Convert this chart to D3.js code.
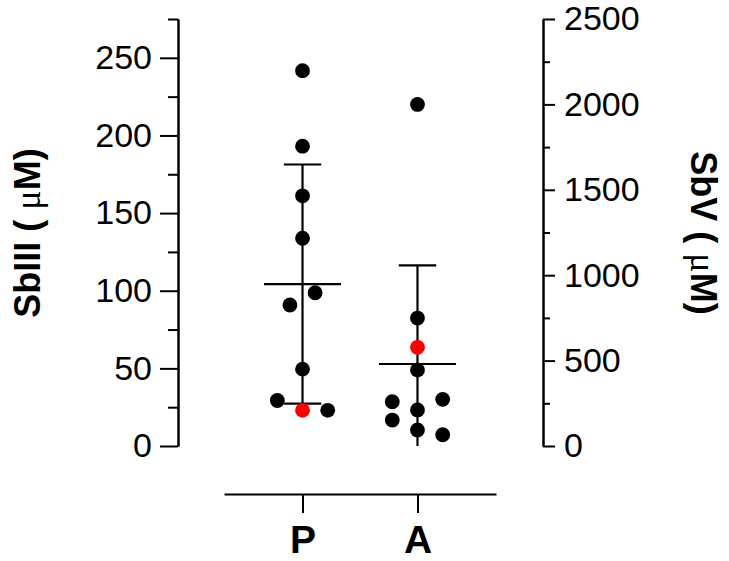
<!DOCTYPE html>
<html>
<head>
<meta charset="utf-8">
<script src="https://cdn.jsdelivr.net/npm/d3@7"></script>
<style>
  body { margin: 0; background: #fff; }
  svg { display: block; font-family: "Liberation Sans", Arial, sans-serif; }
  .axis path, .axis line { stroke: #000; stroke-width: 2; }
  .axis text { fill: #000; font-size: 34px; }
</style>
</head>
<body>
<div class="container"></div>
<script>
// groups on the x axis
const groups = ["P", "A"];

// P group, read against the left axis (SbIII, uM)
const pValues = [241.7, 193.1, 161.1, 133.8, 98.7, 90.8, 49.5, 29.3, 23.0, 23.0];
const pSlots  = [0, 0, 0, 0, 1, -1, 0, -2, 0, 2];   // jitter slot of each dot
const pRed    = [false, false, false, false, false, false, false, false, true, false];
const pMean = 104.3, pSD = 77;

// A group, read against the right axis (SbV, uM)
const aValues = [2000, 749, 578, 445, 273, 259, 211, 152, 94, 66];
const aSlots  = [0, 0, 0, 0, 2, -2, 0, -2, 0, 2];
const aRed    = [false, false, true, false, false, false, false, false, false, false];
const aMean = 480, aSD = 578;

// ticks
const leftMajor = [0, 50, 100, 150, 200, 250];
const leftMinor = [25, 75, 125, 175, 225, 275];
const rightMajor = [0, 500, 1000, 1500, 2000, 2500];
const rightMinor = [250, 750, 1250, 1750, 2250];

const w = 729, h = 561;
const yTop = 19, yBottom = 446;
const leftX = 178, rightX = 543;

const svg = d3.select(".container").append("svg")
  .attr("width", w).attr("height", h);

const yLeft = d3.scaleLinear().domain([0, 275]).range([yBottom, yTop]);
const yRight = d3.scaleLinear().domain([0, 2500]).range([yBottom, yTop]);
const x = d3.scalePoint().domain(groups).range([224, 496]).padding(0.683);
const jitter = 12.6;

/* left axis */
svg.append("g").attr("class", "axis")
  .attr("transform", `translate(${leftX},0)`)
  .call(d3.axisLeft(yLeft).tickValues(leftMajor).tickSize(18).tickSizeOuter(0).tickPadding(8));
svg.append("g").attr("class", "axis")
  .attr("transform", `translate(${leftX},0)`)
  .call(d3.axisLeft(yLeft).tickValues(leftMinor).tickSize(10).tickSizeOuter(0).tickFormat(""));

/* right axis */
svg.append("g").attr("class", "axis")
  .attr("transform", `translate(${rightX},0)`)
  .call(d3.axisRight(yRight).tickValues(rightMajor).tickSize(12).tickSizeOuter(0).tickPadding(9).tickFormat(d3.format("d")));
svg.append("g").attr("class", "axis")
  .attr("transform", `translate(${rightX},0)`)
  .call(d3.axisRight(yRight).tickValues(rightMinor).tickSize(7).tickSizeOuter(0).tickFormat(""));

/* x axis */
const xAxis = svg.append("g").attr("class", "axis")
  .attr("transform", "translate(0,494)")
  .call(d3.axisBottom(x).tickSize(19).tickSizeOuter(0).tickPadding(12));
xAxis.selectAll("text").style("font-size", "39px").style("font-weight", "bold");

/* axis titles */
const leftTitle = svg.append("text")
  .attr("transform", "translate(40,233) rotate(-90)")
  .attr("text-anchor", "middle")
  .style("font-size", "36px").style("font-weight", "bold");
leftTitle.append("tspan").text("SbIII ( ");
leftTitle.append("tspan").text("\u03bc").style("font-weight", "normal").style("font-family", "Liberation Serif, serif");
leftTitle.append("tspan").text("M)");

const rightTitle = svg.append("text")
  .attr("transform", "translate(691,233) rotate(90)")
  .attr("text-anchor", "middle")
  .style("font-size", "36px").style("font-weight", "bold");
rightTitle.append("tspan").text("SbV ( ");
rightTitle.append("tspan").text("\u03bc").style("font-weight", "normal").style("font-family", "Liberation Serif, serif");
rightTitle.append("tspan").text("M)");

/* mean and SD bars */
function drawBars(g, y, mean, sd) {
  const cx = x(g);
  const lo = Math.max(0, mean - sd), hi = mean + sd;
  svg.append("line").attr("x1", cx).attr("x2", cx)
    .attr("y1", y(hi)).attr("y2", y(lo))
    .attr("stroke", "#000").attr("stroke-width", 2.2);
  svg.append("line").attr("x1", cx - 38.5).attr("x2", cx + 38.5)
    .attr("y1", y(mean)).attr("y2", y(mean))
    .attr("stroke", "#000").attr("stroke-width", 2.2);
  svg.append("line").attr("x1", cx - 18.7).attr("x2", cx + 18.7)
    .attr("y1", y(hi)).attr("y2", y(hi))
    .attr("stroke", "#000").attr("stroke-width", 2.2);
  if (mean - sd > 0) {
    svg.append("line").attr("x1", cx - 18.7).attr("x2", cx + 18.7)
      .attr("y1", y(lo)).attr("y2", y(lo))
      .attr("stroke", "#000").attr("stroke-width", 2.2);
  }
}
drawBars("P", yLeft, pMean, pSD);
drawBars("A", yRight, aMean, aSD);

/* dots */
function drawDots(g, y, values, slots, red) {
  svg.append("g").selectAll("circle")
    .data(values)
    .enter()
    .append("circle")
    .attr("cx", (d, i) => x(g) + slots[i] * jitter)
    .attr("cy", (d) => y(d))
    .attr("r", 7.4)
    .attr("fill", (d, i) => red[i] ? "#ff0000" : "#000");
}
drawDots("P", yLeft, pValues, pSlots, pRed);
drawDots("A", yRight, aValues, aSlots, aRed);
</script>
</body>
</html>
